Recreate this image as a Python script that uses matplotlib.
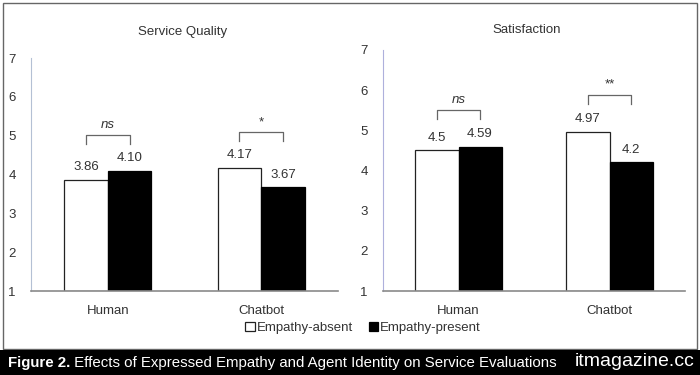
"""
Figure 2: empathy x agent identity bar charts
"""

import matplotlib.pyplot as plt
import numpy as np
from matplotlib.patches import Rectangle

# Data
agents = ['Human', 'Chatbot']
quality_absent = [3.86, 4.17]
quality_present = [4.10, 3.67]
quality_labels_absent = ['3.86', '4.17']
quality_labels_present = ['4.10', '3.67']
quality_sig = ['ns', '*']

satis_absent = [4.5, 4.97]
satis_present = [4.59, 4.2]
satis_labels_absent = ['4.5', '4.97']
satis_labels_present = ['4.59', '4.2']
satis_sig = ['ns', '**']

yticks = [1, 2, 3, 4, 5, 6, 7]

plt.rcParams['font.family'] = ['Liberation Sans', 'DejaVu Sans']
text_col = '#333333'

fig = plt.figure(figsize=(7, 3.75), dpi=100)
fig.patch.set_facecolor('white')

# outer border and caption band
fig.patches.append(Rectangle((3 / 700, 26 / 375), 694 / 700, 346 / 375,
                             transform=fig.transFigure, fill=False,
                             edgecolor='#666666', linewidth=1))
fig.patches.append(Rectangle((0, 0), 1, 25 / 375, transform=fig.transFigure,
                             facecolor='black', edgecolor='none'))

ax1 = fig.add_axes([31 / 700, 0.224, 307 / 700, 0.6213])
ax2 = fig.add_axes([383 / 700, 0.224, 302 / 700, 0.6427])

x = np.arange(len(agents))
w = 0.285


def draw_panel(ax, absent, present, lab_a, lab_p, sig, spine_col):
    ax.bar(x - w / 2, np.array(absent) - 1, w, bottom=1, color='white',
           edgecolor='#222222', linewidth=0.9, label='Empathy-absent')
    ax.bar(x + w / 2, np.array(present) - 1, w, bottom=1, color='black',
           edgecolor='black', linewidth=0.9, label='Empathy-present')
    for i in range(len(agents)):
        ax.annotate(lab_a[i], (x[i] - w / 2, absent[i]), xytext=(0, 9),
                    textcoords='offset points', ha='center', va='center',
                    fontsize=9.5, color=text_col)
        ax.annotate(lab_p[i], (x[i] + w / 2, present[i]), xytext=(0, 9),
                    textcoords='offset points', ha='center', va='center',
                    fontsize=9.5, color=text_col)
        # significance bracket
        top = max(absent[i], present[i]) + 0.92
        ax.plot([x[i] - w / 2, x[i] - w / 2, x[i] + w / 2, x[i] + w / 2],
                [top - 0.24, top, top, top - 0.24], color='#666666',
                linewidth=0.9)
        style = 'italic' if sig[i] == 'ns' else 'normal'
        ax.text(x[i], top + 0.1, sig[i], ha='center', va='bottom',
                fontsize=9.5, style=style, color=text_col)
    ax.set_xlim(-0.5, 1.5)
    ax.set_ylim(1, 7)
    ax.set_yticks(yticks)
    ax.set_xticks(x)
    ax.set_xticklabels(agents)
    ax.tick_params(length=0, labelsize=9.5, colors=text_col)
    ax.tick_params(axis='y', pad=11)
    ax.tick_params(axis='x', pad=10)
    for s in ['top', 'right']:
        ax.spines[s].set_visible(False)
    ax.spines['left'].set_color(spine_col)
    ax.spines['bottom'].set_color('#8a8a8a')
    ax.spines['bottom'].set_linewidth(1.2)


draw_panel(ax1, quality_absent, quality_present, quality_labels_absent,
           quality_labels_present, quality_sig, '#b4c0d4')
draw_panel(ax2, satis_absent, satis_present, satis_labels_absent,
           satis_labels_present, satis_sig, '#aeb0dc')

fig.text(183 / 700, 1 - 32 / 375, 'Service Quality', ha='center', va='center',
         fontsize=9.5, color=text_col)
fig.text(527 / 700, 1 - 30 / 375, 'Satisfaction', ha='center', va='center',
         fontsize=9.5, color=text_col)

# legend
h, l = ax1.get_legend_handles_labels()
fig.legend(h, l, loc='center', bbox_to_anchor=(363 / 700, 1 - 328 / 375),
           ncol=2, frameon=False, handlelength=0.7, handleheight=0.7,
           handletextpad=0.15, columnspacing=1.2, fontsize=9.5,
           labelcolor=text_col)

# caption: bold lead-in followed by the plain title
cap = fig.text(8 / 700, 1 - 363 / 375, 'Figure 2.', color='white',
               fontsize=10.8, fontweight='bold', va='center')
fig.add_artist(plt.Annotation(
    ' Effects of Expressed Empathy and Agent Identity on Service Evaluations',
    xy=(1, 0), xycoords=cap, va='bottom', ha='left', color='white',
    fontsize=10.8))
fig.text(695 / 700, 1 - 362 / 375, 'itmagazine.cc', color='white',
         fontsize=14, ha='right', va='center')

fig.savefig('out.png', dpi=100)
